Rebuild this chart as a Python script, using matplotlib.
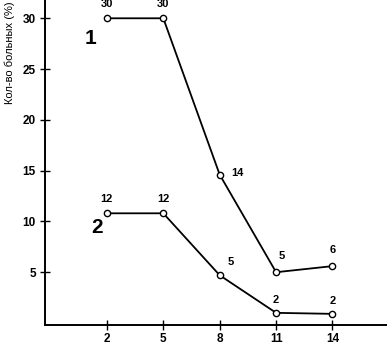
import matplotlib
matplotlib.use("Agg")
import matplotlib.pyplot as plt

days = [2, 5, 8, 11, 14]
series1 = [30, 30, 14.6, 5.0, 5.6]
series2 = [10.8, 10.8, 4.7, 1.0, 0.9]
labels1 = ["30", "30", "14", "5", "6"]
labels2 = ["12", "12", "5", "2", "2"]
yticks = [5, 10, 15, 20, 25, 30]

plt.rcParams['font.family'] = ['Liberation Sans', 'DejaVu Sans']
fig = plt.figure(figsize=(3.87, 3.48), dpi=100)
ax = fig.add_axes([0.116, 0.066, 0.884, 0.934])

for ys in (series1, series2):
    ax.plot(days, ys, color='black', lw=1.3, marker='o', ms=4.5,
            mfc='white', mec='black', mew=1.0, zorder=3)

off1 = [(0, 7), (0, 7), (13, 1), (4, 8), (0, 8)]
for x, y, t, (dx, dy) in zip(days, series1, labels1, off1):
    ax.annotate(t, (x, y), xytext=(dx, dy), textcoords='offset points',
                ha='center', va='bottom' if dy > 3 else 'center',
                fontsize=8, fontweight='bold')
off2 = [(0, 7), (0, 7), (8, 6), (0, 6), (0, 6)]
for x, y, t, (dx, dy) in zip(days, series2, labels2, off2):
    ax.annotate(t, (x, y), xytext=(dx, dy), textcoords='offset points',
                ha='center', va='bottom', fontsize=8, fontweight='bold')

ax.text(1.1, 28.0, "1", fontsize=15, fontweight='bold', ha='center', va='center')
ax.text(1.45, 9.4, "2", fontsize=15, fontweight='bold', ha='center', va='center')

ax.set_xlim(-1.3, 16.9)
ax.set_ylim(-0.2, 31.8)
ax.set_xticks(days)
ax.set_yticks(yticks)
ax.tick_params(direction='inout', length=7, width=1.0, labelsize=8.5)
for lab in ax.get_xticklabels() + ax.get_yticklabels():
    lab.set_fontweight('bold')
ax.tick_params(axis='x', pad=2)
ax.tick_params(axis='y', pad=3)
for s in ('top', 'right'):
    ax.spines[s].set_visible(False)
for s in ('left', 'bottom'):
    ax.spines[s].set_linewidth(1.4)

fig.text(0.025, 0.995, "Кол-во больных (%)", rotation=90, ha='center', va='top',
         fontsize=8)

fig.savefig("out.png", dpi=100)
